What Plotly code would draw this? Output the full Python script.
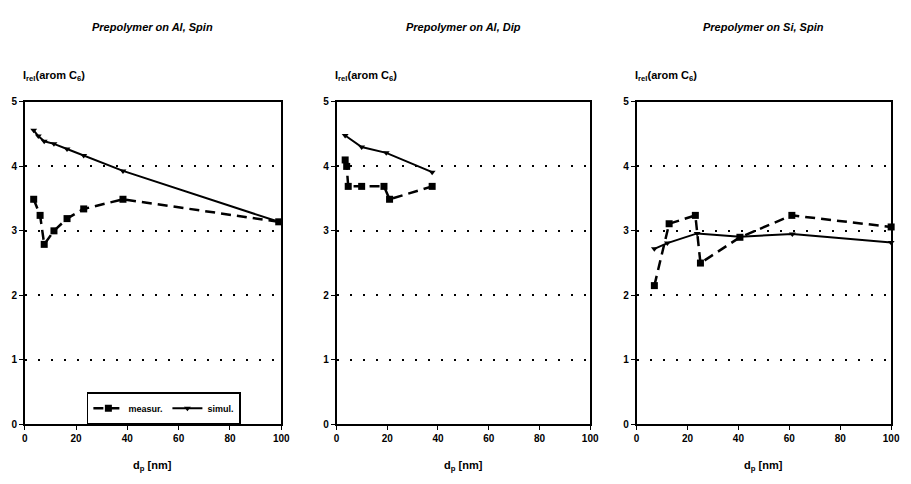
import plotly.graph_objects as go

# Panel 1: Prepolymer on Al, Spin
p1_meas_x = [3.5, 6.0, 7.6, 11.4, 16.5, 23.0, 38.3, 99.0]
p1_meas_y = [3.49, 3.24, 2.79, 3.00, 3.19, 3.34, 3.49, 3.14]
p1_sim_x = [3.5, 5.3, 7.6, 11.4, 16.5, 23.0, 38.3, 99.0]
p1_sim_y = [4.56, 4.47, 4.39, 4.35, 4.27, 4.17, 3.93, 3.14]

# Panel 2: Prepolymer on Al, Dip
p2_meas_x = [3.4, 4.0, 4.6, 9.9, 18.7, 20.9, 37.7]
p2_meas_y = [4.10, 4.00, 3.69, 3.69, 3.69, 3.49, 3.69]
p2_sim_x = [3.4, 9.9, 19.6, 37.7]
p2_sim_y = [4.48, 4.30, 4.21, 3.91]

# Panel 3: Prepolymer on Si, Spin
p3_meas_x = [7.0, 12.8, 23.1, 25.1, 40.6, 61.0, 100.0]
p3_meas_y = [2.15, 3.11, 3.24, 2.50, 2.90, 3.24, 3.06]
p3_sim_x = [7.0, 12.1, 23.8, 40.6, 61.2, 100.0]
p3_sim_y = [2.72, 2.81, 2.96, 2.91, 2.95, 2.82]

titles = ["Prepolymer on Al, Spin", "Prepolymer on Al, Dip", "Prepolymer on Si, Spin"]
x_ticks = [0, 20, 40, 60, 80, 100]
y_ticks = [0, 1, 2, 3, 4, 5]

W, H = 911, 484
FONT = "Liberation Sans"
x_domains = [(22 / W, 282 / W), (338 / W, 595 / W), (642 / W, 900 / W)]
y_domain = ((H - 428) / H, (H - 99) / H)

fig = go.Figure()
panels = [
    (p1_meas_x, p1_meas_y, p1_sim_x, p1_sim_y),
    (p2_meas_x, p2_meas_y, p2_sim_x, p2_sim_y),
    (p3_meas_x, p3_meas_y, p3_sim_x, p3_sim_y),
]
for i, (mx, my, sx, sy) in enumerate(panels):
    xa = "x" if i == 0 else f"x{i+1}"
    ya = "y" if i == 0 else f"y{i+1}"
    fig.add_trace(go.Scatter(
        x=mx, y=my, mode="lines+markers", name="measur.",
        line=dict(color="black", width=2.5, dash="10px,6px"),
        marker=dict(symbol="square", size=7, color="black"),
        xaxis=xa, yaxis=ya, showlegend=(i == 0), cliponaxis=False))
    fig.add_trace(go.Scatter(
        x=sx, y=sy, mode="lines+markers", name="simul.",
        line=dict(color="black", width=2),
        marker=dict(symbol="triangle-down", size=6, color="black"),
        xaxis=xa, yaxis=ya, showlegend=(i == 0), cliponaxis=False))

tickfont = dict(family=FONT, size=10, color="black", weight="bold")
for i in range(3):
    suffix = "" if i == 0 else str(i + 1)
    fig.update_layout(**{
        f"xaxis{suffix}": dict(
            domain=x_domains[i], range=[0, 100], tickvals=x_ticks,
            showgrid=False, zeroline=False, showline=True, linecolor="black",
            linewidth=1.5, mirror=True, ticks="outside", ticklen=4,
            tickcolor="black", tickfont=tickfont, anchor="y" + suffix),
        f"yaxis{suffix}": dict(
            domain=y_domain, range=[0, 5], tickvals=y_ticks,
            showgrid=True, gridcolor="black", griddash="2px,11px", gridwidth=1.5,
            zeroline=False, showline=True, linecolor="black", linewidth=1.5,
            mirror=True, ticks="outside", ticklen=4, tickcolor="black",
            tickfont=tickfont, anchor="x" + suffix),
    })

annotations = []
for i in range(3):
    x0, x1 = x_domains[i]
    annotations.append(dict(
        text=f"<b><i>{titles[i]}</i></b>", x=(x0 + x1) / 2, y=(H - 22) / H,
        xref="paper", yref="paper", showarrow=False, xanchor="center", yanchor="middle",
        font=dict(family=FONT, size=11, color="black")))
    annotations.append(dict(
        text="<b>I<sub>rel</sub>(arom C<sub>6</sub>)</b>", x=(x0 * W - 4) / W, y=(H - 73) / H,
        xref="paper", yref="paper", showarrow=False, xanchor="left", yanchor="middle",
        font=dict(family=FONT, size=11, color="black")))
    annotations.append(dict(
        text="<b>d<sub>p</sub> [nm]</b>", x=(x0 + x1) / 2, y=(H - 471) / H,
        xref="paper", yref="paper", showarrow=False, xanchor="center", yanchor="middle",
        font=dict(family=FONT, size=11, color="black")))

fig.update_layout(
    width=W, height=H, margin=dict(l=0, r=0, t=0, b=0),
    paper_bgcolor="white", plot_bgcolor="white",
    annotations=annotations,
    legend=dict(
        orientation="h", x=85 / W, y=(H - 428) / H, xanchor="left", yanchor="bottom",
        bordercolor="black", borderwidth=1.5, bgcolor="white",
        font=dict(family=FONT, size=9, color="black", weight="bold"),
        itemwidth=30, tracegroupgap=0),
    showlegend=True,
)

fig.write_html("out.html")
